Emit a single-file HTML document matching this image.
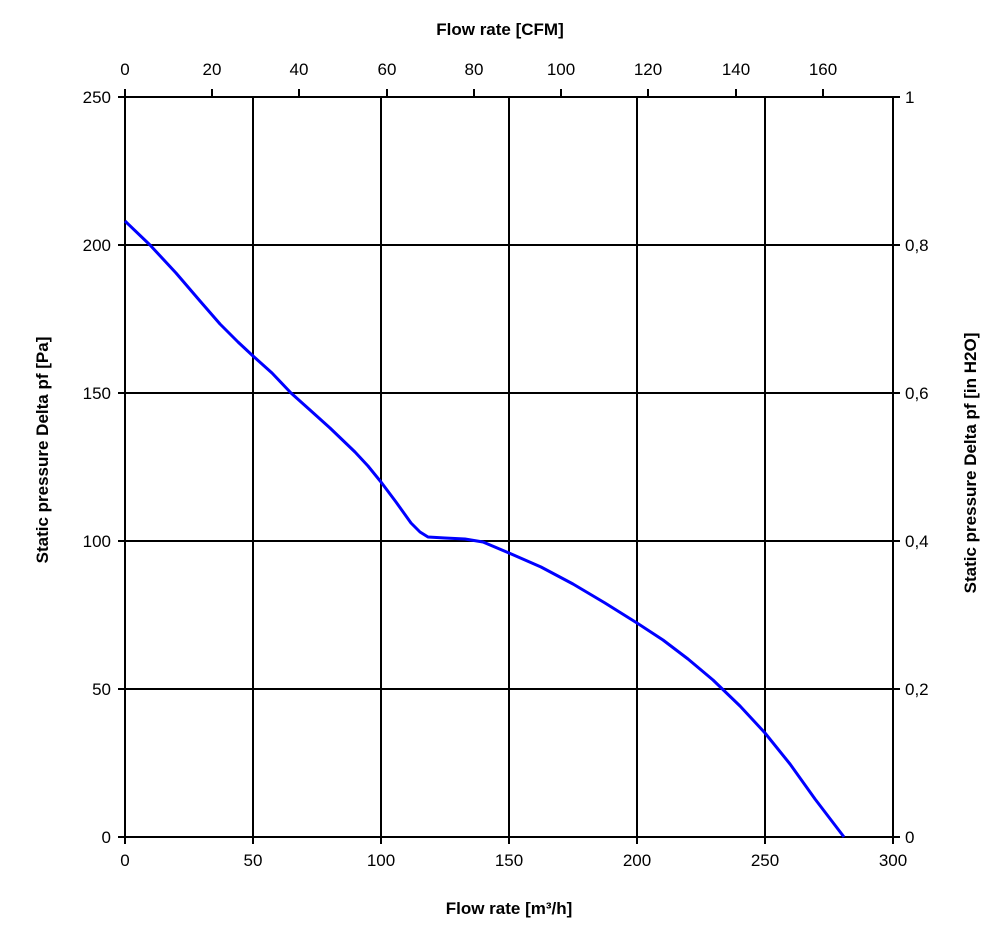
<!DOCTYPE html>
<html><head><meta charset="utf-8"><style>body{margin:0;background:#fff}svg{display:block}text{font-family:"Liberation Sans",Arial,sans-serif;fill:#000}</style></head>
<body>
<svg width="1000" height="931" viewBox="0 0 1000 931" xmlns="http://www.w3.org/2000/svg">
<g stroke="#000" stroke-width="2" fill="none">
<line x1="253" y1="97" x2="253" y2="837"/><line x1="381" y1="97" x2="381" y2="837"/><line x1="509" y1="97" x2="509" y2="837"/><line x1="637" y1="97" x2="637" y2="837"/><line x1="765" y1="97" x2="765" y2="837"/>
<line x1="125" y1="245" x2="893" y2="245"/><line x1="125" y1="393" x2="893" y2="393"/><line x1="125" y1="541" x2="893" y2="541"/><line x1="125" y1="689" x2="893" y2="689"/>
<rect x="125" y="97" width="768" height="740"/>
<path d="M125 837v7M253 837v7M381 837v7M509 837v7M637 837v7M765 837v7M893 837v7"/>
<path d="M118 97h7M118 245h7M118 393h7M118 541h7M118 689h7M118 837h7"/>
<path d="M893 97h7M893 245h7M893 393h7M893 541h7M893 689h7M893 837h7"/>
<path d="M125 97v-8M212 97v-8M299 97v-8M387 97v-8M474 97v-8M561 97v-8M648 97v-8M736 97v-8M823 97v-8"/>
</g>
<polyline fill="none" stroke="#0000ff" stroke-width="3" stroke-linejoin="round" points="
125,221 150,245 176,273 200,301 220,324 238,342 253,356 272,373 291,393 310,410 330,428 355,452 368,466 381,482 396,502 411,523 420,532 428,537 445,538 465,539 483,542 509,553 541,567 573,584 605,603 637,623 663,640 688,659 713,680 740,706 765,733 790,764 815,799 844,837"/>
<g font-size="17" text-anchor="middle">
<text x="125" y="866">0</text><text x="253" y="866">50</text><text x="381" y="866">100</text><text x="509" y="866">150</text><text x="637" y="866">200</text><text x="765" y="866">250</text><text x="893" y="866">300</text>
<text x="125" y="75">0</text><text x="212" y="75">20</text><text x="299" y="75">40</text><text x="387" y="75">60</text><text x="474" y="75">80</text><text x="561" y="75">100</text><text x="648" y="75">120</text><text x="736" y="75">140</text><text x="823" y="75">160</text>
</g>
<g font-size="17" text-anchor="end">
<text x="111" y="103">250</text><text x="111" y="251">200</text><text x="111" y="399">150</text><text x="111" y="547">100</text><text x="111" y="695">50</text><text x="111" y="843">0</text>
</g>
<g font-size="17">
<text x="905" y="103">1</text><text x="905" y="251">0,8</text><text x="905" y="399">0,6</text><text x="905" y="547">0,4</text><text x="905" y="695">0,2</text><text x="905" y="843">0</text>
</g>
<g font-size="17" font-weight="bold" text-anchor="middle">
<text x="509" y="914">Flow rate [m³/h]</text>
<text x="500" y="35">Flow rate [CFM]</text>
<text transform="translate(48,450) rotate(-90)">Static pressure Delta pf [Pa]</text>
<text transform="translate(976,463) rotate(-90)">Static pressure Delta pf [in H2O]</text>
</g>
</svg>
</body></html>
